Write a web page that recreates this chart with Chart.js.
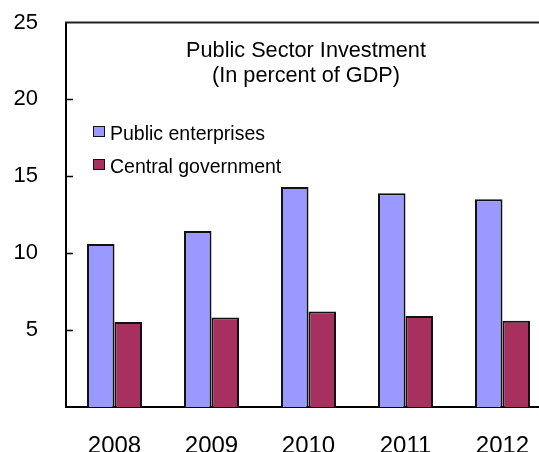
<!DOCTYPE html>
<html>
<head>
<meta charset="utf-8">
<script src="https://cdn.jsdelivr.net/npm/chart.js@4"></script>
<style>
  html, body { margin: 0; padding: 0; background: #fff; overflow: hidden; }
  #wrap { width: 565px; height: 452px; }
</style>
</head>
<body>
<div id="wrap"><canvas id="investment-chart" width="565" height="452"></canvas></div>
<script>
const years = ["2008", "2009", "2010", "2011", "2012"];
const publicEnterprises = [10.6, 11.45, 14.3, 13.9, 13.5];
const centralGovernment = [5.52, 5.82, 6.21, 5.91, 5.6];
const titleLines = ["Public Sector Investment", "(In percent of GDP)"];
const yMax = 25;
const yStep = 5;

const FONT = "'Liberation Sans', Arial, sans-serif";

// title, legend, top frame line and the inward ticks on the value axis
const decorations = {
    id: "decorations",
    afterDatasetsDraw(chart) {
        const ctx = chart.ctx;
        const area = chart.chartArea;
        const yScale = chart.scales.y;
        ctx.save();

        ctx.strokeStyle = "#222";
        ctx.lineWidth = 2;
        ctx.beginPath();
        ctx.moveTo(area.left - 1, area.top);
        ctx.lineTo(area.right, area.top);
        ctx.stroke();

        ctx.strokeStyle = "#000";
        ctx.lineWidth = 1.5;
        yScale.ticks.forEach(t => {
            if (t.value <= 0 || t.value >= yMax) return;
            const py = Math.round(yScale.getPixelForValue(t.value)) + 0.5;
            ctx.beginPath();
            ctx.moveTo(area.left, py);
            ctx.lineTo(area.left + 7, py);
            ctx.stroke();
        });

        ctx.fillStyle = "#000";
        ctx.font = "21.7px " + FONT;
        ctx.textAlign = "center";
        ctx.textBaseline = "alphabetic";
        titleLines.forEach((line, i) => {
            ctx.fillText(line, 306, 57 + i * 25);
        });

        ctx.font = "19.5px " + FONT;
        ctx.textAlign = "left";
        chart.data.datasets.forEach((ds, i) => {
            const top = 126 + i * 33;
            ctx.fillStyle = ds.backgroundColor;
            ctx.fillRect(93, top, 12, 11);
            ctx.strokeStyle = "#111";
            ctx.lineWidth = 1;
            ctx.strokeRect(93.5, top + 0.5, 11, 10);
            ctx.fillStyle = "#000";
            ctx.fillText(ds.label, 110, top + 14);
        });

        ctx.restore();
    }
};

new Chart("investment-chart", {
    type: "bar",
    data: {
        labels: years,
        datasets: [{
            label: "Public enterprises",
            data: publicEnterprises,
            backgroundColor: "#9999FF",
            borderColor: "#111",
            borderWidth: 2,
            categoryPercentage: 0.567,
            barPercentage: 1
        }, {
            label: "Central government",
            data: centralGovernment,
            backgroundColor: "#A8305F",
            borderColor: "#111",
            borderWidth: 2,
            categoryPercentage: 0.567,
            barPercentage: 1
        }]
    },
    options: {
        responsive: false,
        animation: false,
        devicePixelRatio: 1,
        layout: {
            padding: { top: 22.5, right: 14, left: 0, bottom: 0 }
        },
        plugins: {
            legend: { display: false },
            title: { display: false },
            tooltip: { enabled: false }
        },
        scales: {
            x: {
                grid: { display: false, drawTicks: false },
                border: { display: true, color: "#000", width: 2 },
                ticks: {
                    color: "#000",
                    padding: 25,
                    font: { family: FONT, size: 24 }
                },
                afterFit(scale) { scale.height = 45; }
            },
            y: {
                min: 0,
                max: yMax,
                grid: { display: false, drawTicks: false },
                border: { display: true, color: "#000", width: 2 },
                ticks: {
                    stepSize: yStep,
                    color: "#000",
                    padding: 28,
                    font: { family: FONT, size: 22 },
                    callback: v => (v === 0 ? "" : v)
                },
                // label padding would otherwise push the plot top down
                afterFit(scale) {
                    scale.width = 66;
                    scale.paddingTop = 0;
                    scale.paddingBottom = 0;
                }
            }
        }
    },
    plugins: [decorations]
});
</script>
</body>
</html>
